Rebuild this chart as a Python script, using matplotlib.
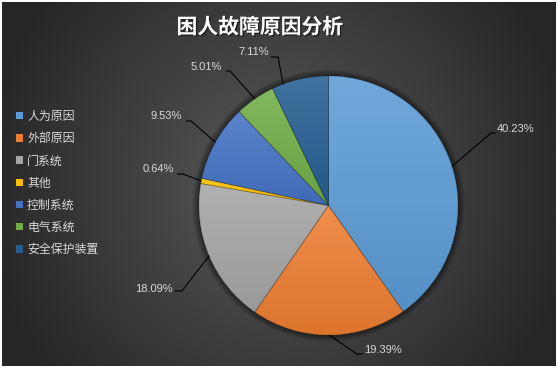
import numpy as np
import matplotlib
matplotlib.use("Agg")
import matplotlib.pyplot as plt
from matplotlib.patches import Wedge, Circle
from matplotlib import patheffects as pe
from matplotlib.colors import to_rgb

# ---- data ----
title = "困人故障原因分析"
categories = ["人为原因", "外部原因", "门系统", "其他", "控制系统", "电气系统", "安全保护装置"]
shares = [40.23, 19.39, 18.09, 0.64, 9.53, 5.01, 7.11]
pct_labels = ["40.23%", "19.39%", "18.09%", "0.64%", "9.53%", "5.01%", "7.11%"]

# ---- style ----
colors = ["#5B9BD5", "#ED7D31", "#A5A5A5", "#FFC000", "#4472C4", "#70AD47", "#255E91"]
CJK = ["Noto Sans CJK SC", "DejaVu Sans"]
TEXT_GREY = "#D9D9D9"

W, H = 558, 368
fig = plt.figure(figsize=(W / 100, H / 100), dpi=100, facecolor="white")

# dark radial-gradient chart area
bw, bh = 554, 364
bg = fig.add_axes([2 / W, 2 / H, bw / W, bh / H])
bg.set_axis_off()
yy, xx = np.mgrid[0:bh, 0:bw]
dist = np.clip(np.hypot(xx - bw / 2, yy - bh / 2) / 300.0, 0, 1)
c_in = np.array([0x5A] * 3) / 255.0
c_out = np.array([0x26] * 3) / 255.0
bg_img = c_in + (c_out - c_in) * dist[..., None]
bg.imshow(bg_img, extent=(0, bw, bh, 0), aspect="auto", interpolation="bilinear")
bg.set_xlim(0, bw)
bg.set_ylim(bh, 0)

# main axes in pixel units (y up)
ax = fig.add_axes([0, 0, 1, 1])
ax.patch.set_alpha(0)
cx, cy, R = 328.5, H - 205.5, 129.5

# soft shadow around the pie
for k in range(1, 8):
    ax.add_patch(Circle((cx, cy), R + k * 0.9, facecolor="black",
                        edgecolor="none", alpha=0.07, zorder=1))

wedges, _ = ax.pie(shares, colors=colors, startangle=90, counterclock=False,
                   center=(cx, cy), radius=R, frame=True,
                   wedgeprops=dict(linewidth=0))


def mix(c, other, t):
    c = np.array(to_rgb(c))
    return c + (np.array(other) - c) * t


# vertical gradient fill per slice
for w, c in zip(wedges, colors):
    w.set_zorder(2)
    ext = w.get_path().get_extents()
    top = mix(c, (1, 1, 1), 0.13)
    bot = mix(c, (0, 0, 0), 0.07)
    t = np.linspace(0, 1, 128)[:, None, None]
    grad = top + (bot - top) * t
    im = ax.imshow(grad, extent=(ext.x0, ext.x1, ext.y0, ext.y1),
                   aspect="auto", origin="upper", interpolation="bilinear",
                   zorder=2.1)
    im.set_clip_path(w)
    ax.add_patch(Wedge(w.center, w.r, w.theta1, w.theta2, facecolor="none",
                       edgecolor=(0, 0, 0, 0.22), linewidth=0.6, zorder=3))

# data labels with leader lines: (anchor fraction within slice, elbow x, elbow y,
# end of horizontal stub, text x, text y, alignment) in pixels from top-left
label_layout = [
    (0.5, 491, 133, 496, 497, 129, "left"),
    (0.5, 357, 354, 363, 364, 350, "left"),
    (0.5, 182, 291, 175, 173, 289, "right"),
    (0.5, 183, 174, 177, 174, 169, "right"),
    (0.5, 191, 121, 186, 182, 116, "right"),
    (0.5, 230, 71, 226, 222, 67, "right"),
    (0.2, 278, 57, 271, 269, 52, "right"),
]
for w, txt, (frac, ex, ey, hx, tx, ty, ha) in zip(wedges, pct_labels, label_layout):
    ang = np.deg2rad(w.theta2 - frac * (w.theta2 - w.theta1))
    ax0 = cx + R * np.cos(ang)
    ay0 = cy + R * np.sin(ang)
    ax.plot([ax0, ex, hx], [ay0, H - ey, H - ey], color="black",
            linewidth=0.8, zorder=4, solid_capstyle="butt")
    ax.text(tx, H - ty, txt, ha=ha, va="center", color=TEXT_GREY,
            fontsize=8, family=["Liberation Sans", "DejaVu Sans"], zorder=5)

ax.set_xlim(0, W)
ax.set_ylim(0, H)
ax.set_axis_off()

# legend
leg = ax.legend(wedges, categories, loc="upper left",
                bbox_to_anchor=(16 / W, 1 - 110 / H), bbox_transform=fig.transFigure,
                frameon=False, prop=dict(family=CJK, size=8.6), labelcolor=TEXT_GREY,
                handlelength=0.58, handleheight=0.58, handletextpad=0.35,
                labelspacing=0.77, borderpad=0, borderaxespad=0)

# title
fig.text(260 / W, 1 - 27 / H, title, ha="center", va="center", color="white",
         fontsize=15, fontweight="bold", family=CJK,
         path_effects=[pe.withSimplePatchShadow(offset=(1, -1), alpha=0.45,
                                                shadow_rgbFace="black")])

fig.savefig("out.png", dpi=100, facecolor="white")
